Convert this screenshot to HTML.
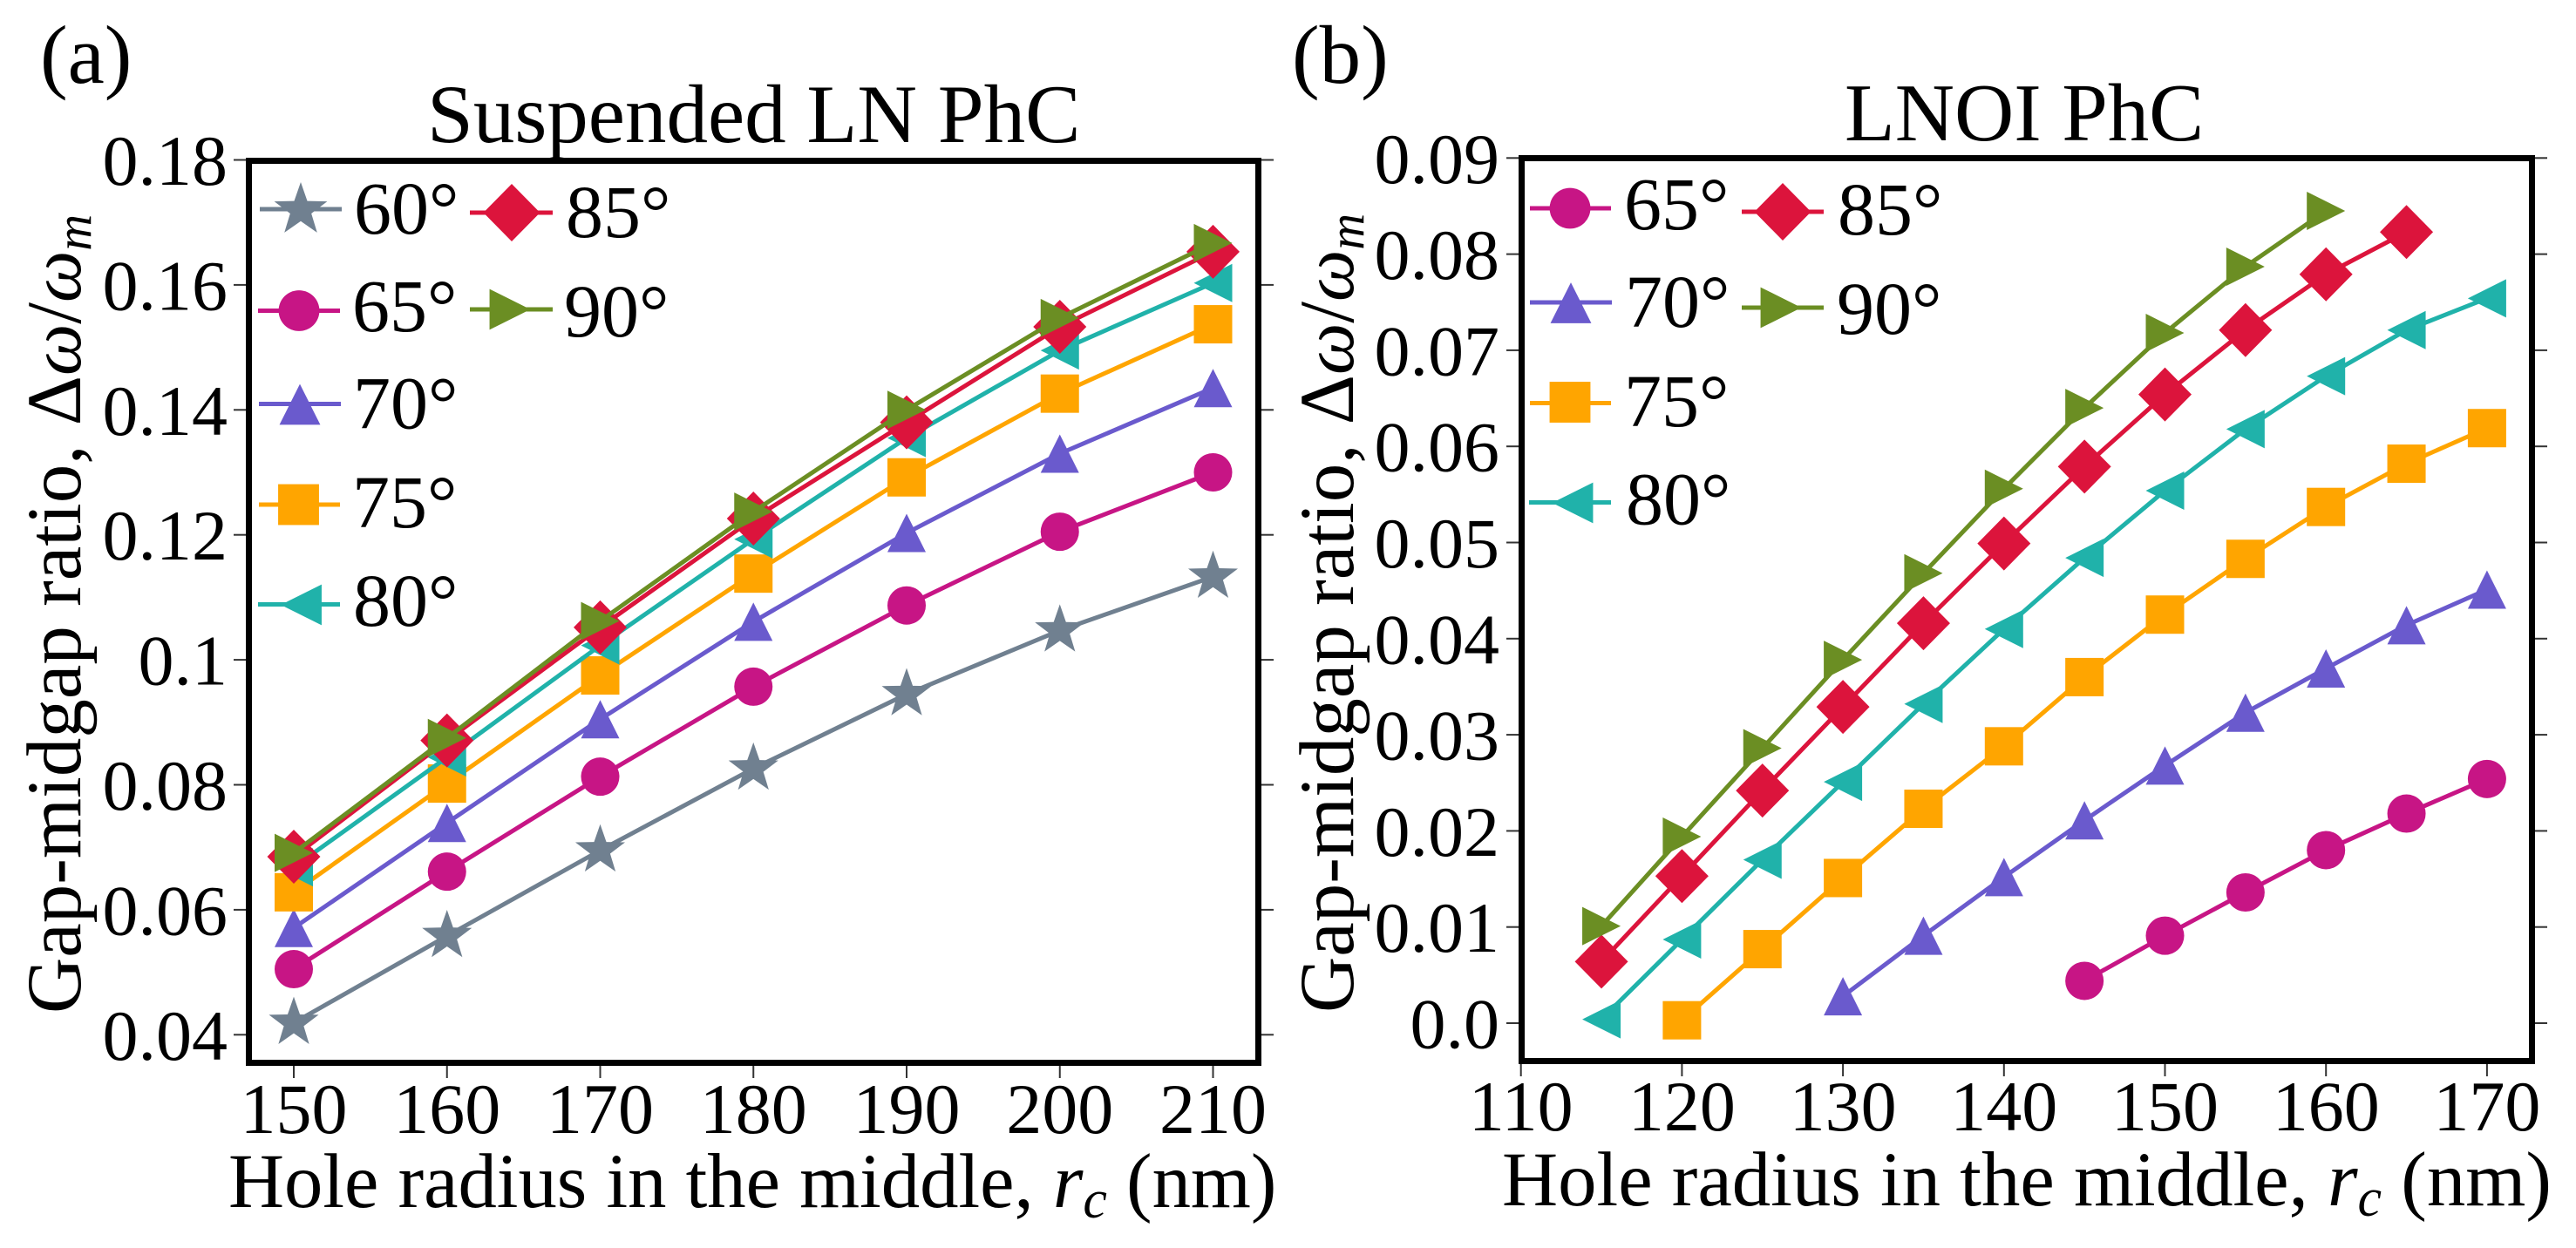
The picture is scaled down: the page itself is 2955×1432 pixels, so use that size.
<!DOCTYPE html>
<html lang="en">
<head>
<meta charset="utf-8">
<title>Gap-midgap ratio vs hole radius</title>
<style>
  html, body { margin: 0; padding: 0; background: #fff; }
  svg { display: block; }
  text { font-family: "Liberation Serif", "DejaVu Serif", serif; fill: #000; }
</style>
</head>
<body>
<svg id="figure" width="2955" height="1432" viewBox="0 0 2955 1432">
  <rect x="0" y="0" width="2955" height="1432" fill="#fff"/>

  <g id="panel-a"></g>
  <g id="panel-b"></g>

  <text x="46" y="95" font-size="95">(a)</text>
  <text x="1482" y="95" font-size="95">(b)</text>
  <text x="490" y="163" font-size="95">Suspended LN PhC</text>
  <text x="2116" y="161" font-size="94.5">LNOI PhC</text>

  <text x="262" y="1385" font-size="88.7">Hole radius in the middle, <tspan font-style="italic">r</tspan><tspan font-style="italic" font-size="62" dy="12">c</tspan><tspan dy="-12"> (nm)</tspan></text>
  <text x="1723" y="1383" font-size="88.8">Hole radius in the middle, <tspan font-style="italic">r</tspan><tspan font-style="italic" font-size="62" dy="12">c</tspan><tspan dy="-12"> (nm)</tspan></text>

  <text transform="translate(92 1163) rotate(-90)" font-size="89">Gap-midgap ratio, Δ<tspan font-style="italic" font-size="84">ω</tspan>/<tspan font-style="italic" font-size="84">ω</tspan><tspan font-style="italic" font-size="58" dy="12">m</tspan></text>
  <text transform="translate(1552 1162) rotate(-90)" font-size="89">Gap-midgap ratio, Δ<tspan font-style="italic" font-size="84">ω</tspan>/<tspan font-style="italic" font-size="84">ω</tspan><tspan font-style="italic" font-size="58" dy="12">m</tspan></text>
</svg>

<script>
// ---- Panel (a) data: suspended LN PhC ----
const xTicksA = [150, 160, 170, 180, 190, 200, 210];
const yTickLabelsA = ['0.04', '0.06', '0.08', '0.1', '0.12', '0.14', '0.16', '0.18'];
const radiiA = [150, 160, 170, 180, 190, 200, 210];
const gapA60 = [0.0419, 0.0558, 0.0695, 0.0826, 0.0945, 0.1047, 0.1133];
const gapA65 = [0.0505, 0.0661, 0.0813, 0.0957, 0.1087, 0.1205, 0.1300];
const gapA70 = [0.0571, 0.0739, 0.0905, 0.1061, 0.1203, 0.1330, 0.1435];
const gapA75 = [0.0628, 0.0802, 0.0975, 0.1138, 0.1292, 0.1426, 0.1537];
const gapA80 = [0.0668, 0.0844, 0.1023, 0.1193, 0.1355, 0.1495, 0.1603];
const gapA85 = [0.0685, 0.0871, 0.1052, 0.1226, 0.1380, 0.1533, 0.1653];
const gapA90 = [0.0691, 0.0875, 0.1062, 0.1237, 0.1400, 0.1547, 0.1667];

// ---- Panel (b) data: LNOI PhC ----
const xTicksB = [110, 120, 130, 140, 150, 160, 170];
const yTickLabelsB = ['0.0', '0.01', '0.02', '0.03', '0.04', '0.05', '0.06', '0.07', '0.08', '0.09'];
const radiiB65 = [145, 150, 155, 160, 165, 170];
const gapB65 = [0.0044, 0.0091, 0.0136, 0.0180, 0.0218, 0.0254];
const radiiB70 = [130, 135, 140, 145, 150, 155, 160, 165, 170];
const gapB70 = [0.0028, 0.0091, 0.0152, 0.0211, 0.0268, 0.0323, 0.0369, 0.0414, 0.0451];
const radiiB75 = [120, 125, 130, 135, 140, 145, 150, 155, 160, 165, 170];
const gapB75 = [0.0003, 0.0077, 0.0151, 0.0223, 0.0288, 0.0360, 0.0425, 0.0483, 0.0537, 0.0582, 0.0619];
const radiiB80 = [115, 120, 125, 130, 135, 140, 145, 150, 155, 160, 165, 170];
const gapB80 = [0.0004, 0.0087, 0.0170, 0.0251, 0.0332, 0.0410, 0.0484, 0.0554, 0.0618, 0.0673, 0.0721, 0.0754];
const radiiB85 = [115, 120, 125, 130, 135, 140, 145, 150, 155, 160, 165];
const gapB85 = [0.0064, 0.0153, 0.0242, 0.0329, 0.0416, 0.0499, 0.0579, 0.0654, 0.0721, 0.0779, 0.0823];
const radiiB90 = [115, 120, 125, 130, 135, 140, 145, 150, 155, 160];
const gapB90 = [0.0101, 0.0194, 0.0286, 0.0378, 0.0468, 0.0556, 0.0640, 0.0718, 0.0787, 0.0845];

const SVG_NS = document.getElementById('figure').namespaceURI;
const COLOR_60 = '#708090';
const COLOR_65 = '#C71585';
const COLOR_70 = '#6A5ACD';
const COLOR_75 = '#FFA500';
const COLOR_80 = '#20B2AA';
const COLOR_85 = '#DC143C';
const COLOR_90 = '#6B8E23';

// Axis functions
function xScaleA(v) { return 337 + (v - 150) * 17.575; }
function yScaleA(v) { return 183.5 + (0.18 - v) * 7170; }
function xScaleB(v) { return 1744.7 + (v - 110) * 18.47; }
function yScaleB(v) { return 1174 - v * 11030; }

function make(tag, attrs, parent) {
  const el = document.createElementNS(SVG_NS, tag);
  for (const k in attrs) el.setAttribute(k, attrs[k]);
  parent.appendChild(el);
  return el;
}

function starPoints(cx, cy, R) {
  const pts = [];
  for (let i = 0; i < 10; i++) {
    const r = i % 2 === 0 ? R : R * 0.4;
    const a = -Math.PI / 2 + i * Math.PI / 5;
    pts.push((cx + r * Math.cos(a)).toFixed(2) + ',' + (cy + r * Math.sin(a)).toFixed(2));
  }
  return pts.join(' ');
}

function drawMarker(parent, shape, cx, cy, color, s) {
  let el;
  if (shape === 'star') {
    el = make('polygon', { points: starPoints(cx, cy, 30 * s), fill: color }, parent);
  } else if (shape === 'circle') {
    el = make('circle', { cx: cx, cy: cy, r: 22 * s, fill: color }, parent);
  } else if (shape === 'triangle-up') {
    const h = 22 * s;
    el = make('polygon', { points: `${cx},${cy - h} ${cx + h},${cy + h} ${cx - h},${cy + h}`, fill: color }, parent);
  } else if (shape === 'square') {
    const h = 22 * s;
    el = make('rect', { x: cx - h, y: cy - h, width: 2 * h, height: 2 * h, fill: color }, parent);
  } else if (shape === 'triangle-left') {
    const h = 22 * s;
    el = make('polygon', { points: `${cx - h},${cy} ${cx + h},${cy - h} ${cx + h},${cy + h}`, fill: color }, parent);
  } else if (shape === 'diamond') {
    const w = 30.5 * s, h = 31 * s;
    el = make('polygon', { points: `${cx},${cy - h} ${cx + w},${cy} ${cx},${cy + h} ${cx - w},${cy}`, fill: color }, parent);
  } else {
    const h = 22 * s;
    el = make('polygon', { points: `${cx + h},${cy} ${cx - h},${cy - h} ${cx - h},${cy + h}`, fill: color }, parent);
  }
  
  
  return el;
}

function drawSeries(parent, xs, ys, shape, color, xScale, yScale) {
  const g = make('g', {}, parent);
  
  
  const pts = xs.map((x, i) => xScale(x).toFixed(2) + ',' + yScale(ys[i]).toFixed(2)).join(' ');
  const line = make('polyline', { points: pts, fill: 'none', stroke: color, 'stroke-width': 5, 'stroke-linejoin': 'round' }, g);
  
  
  xs.forEach((x, i) => drawMarker(g, shape, xScale(x), yScale(ys[i]), color, 1));
}

function drawAxes(parent, box, xTicks, yLabels, xScale, yScale, labelRight, xBaseline) {
  const tickColor = '#333';
  xTicks.forEach(t => {
    const x = xScale(t);
    const tick = make('line', { x1: x, x2: x, y1: box.bottom, y2: box.bottom + 14, stroke: tickColor, 'stroke-width': 2 }, parent);
    
    
    const lab = make('text', { x: x, y: xBaseline, 'font-size': 82, 'text-anchor': 'middle' }, parent);
    
    
    lab.textContent = String(t);
  });
  yLabels.forEach(t => {
    const y = yScale(parseFloat(t));
    const left = make('line', { x1: box.left - 14, x2: box.left, y1: y, y2: y, stroke: tickColor, 'stroke-width': 2 }, parent);
    
    
    const right = make('line', { x1: box.right, x2: box.right + 14, y1: y, y2: y, stroke: tickColor, 'stroke-width': 2 }, parent);
    
    
    const lab = make('text', { x: labelRight, y: y + 28.5, 'font-size': 82, 'text-anchor': 'end' }, parent);
    
    
    lab.textContent = t;
  });
}

function drawFrame(parent, box) {
  const frame = make('rect', {
    x: box.left + 3.5, y: box.top + 3.5,
    width: box.right - box.left - 7, height: box.bottom - box.top - 7,
    fill: 'none', stroke: '#000', 'stroke-width': 7
  }, parent);
  
  
}

function legendEntry(parent, label, shape, color, x1, x2, lineY, mx, my, textX, textY) {
  const g = make('g', {}, parent);
  
  
  make('line', { x1: x1, x2: x2, y1: lineY, y2: lineY, stroke: color, 'stroke-width': 5 }, g);
  drawMarker(g, shape, mx, my, color, 1.065);
  const t = make('text', { x: textX, y: textY, 'font-size': 86 }, g);
  
  
  t.textContent = label;
}

// ---- Panel (a) ----
const panelA = document.getElementById('panel-a');
const boxA = { left: 282, right: 1447, top: 181, bottom: 1223 };
drawSeries(panelA, radiiA, gapA60, 'star', COLOR_60, xScaleA, yScaleA);
drawSeries(panelA, radiiA, gapA65, 'circle', COLOR_65, xScaleA, yScaleA);
drawSeries(panelA, radiiA, gapA70, 'triangle-up', COLOR_70, xScaleA, yScaleA);
drawSeries(panelA, radiiA, gapA75, 'square', COLOR_75, xScaleA, yScaleA);
drawSeries(panelA, radiiA, gapA80, 'triangle-left', COLOR_80, xScaleA, yScaleA);
drawSeries(panelA, radiiA, gapA85, 'diamond', COLOR_85, xScaleA, yScaleA);
drawSeries(panelA, radiiA, gapA90, 'triangle-right', COLOR_90, xScaleA, yScaleA);
drawAxes(panelA, boxA, xTicksA, yTickLabelsA, xScaleA, yScaleA, 261, 1300);
drawFrame(panelA, boxA);
legendEntry(panelA, '60°', 'star', COLOR_60, 298, 392, 240, 345, 241, 406, 268);
legendEntry(panelA, '65°', 'circle', COLOR_65, 296, 390, 356.5, 343, 356.5, 404, 380);
legendEntry(panelA, '70°', 'triangle-up', COLOR_70, 297, 391, 463.5, 344, 464, 405, 491.5);
legendEntry(panelA, '75°', 'square', COLOR_75, 297, 390, 579, 342.5, 579, 404, 605);
legendEntry(panelA, '80°', 'triangle-left', COLOR_80, 296, 390, 693.5, 345.5, 694, 405, 718);
legendEntry(panelA, '85°', 'diamond', COLOR_85, 539, 634, 244, 587, 244, 649, 272);
legendEntry(panelA, '90°', 'triangle-right', COLOR_90, 539, 634, 355, 585, 355, 647, 386);

// ---- Panel (b) ----
const panelB = document.getElementById('panel-b');
const boxB = { left: 1742, right: 2908, top: 178, bottom: 1221 };
drawSeries(panelB, radiiB65, gapB65, 'circle', COLOR_65, xScaleB, yScaleB);
drawSeries(panelB, radiiB70, gapB70, 'triangle-up', COLOR_70, xScaleB, yScaleB);
drawSeries(panelB, radiiB75, gapB75, 'square', COLOR_75, xScaleB, yScaleB);
drawSeries(panelB, radiiB80, gapB80, 'triangle-left', COLOR_80, xScaleB, yScaleB);
drawSeries(panelB, radiiB85, gapB85, 'diamond', COLOR_85, xScaleB, yScaleB);
drawSeries(panelB, radiiB90, gapB90, 'triangle-right', COLOR_90, xScaleB, yScaleB);
drawAxes(panelB, boxB, xTicksB, yTickLabelsB, xScaleB, yScaleB, 1720, 1297);
drawFrame(panelB, boxB);
legendEntry(panelB, '65°', 'circle', COLOR_65, 1755, 1848, 239, 1801, 239, 1863, 263);
legendEntry(panelB, '70°', 'triangle-up', COLOR_70, 1755, 1849, 347, 1802, 347.5, 1864, 375);
legendEntry(panelB, '75°', 'square', COLOR_75, 1755, 1848, 462.5, 1801, 461.5, 1863, 489);
legendEntry(panelB, '80°', 'triangle-left', COLOR_80, 1754, 1848, 576.5, 1804, 577, 1865, 601.5);
legendEntry(panelB, '85°', 'diamond', COLOR_85, 1998, 2092, 243, 2045, 243, 2108, 269);
legendEntry(panelB, '90°', 'triangle-right', COLOR_90, 1998, 2092, 353, 2043, 353, 2107, 383);
</script>
</body>
</html>
